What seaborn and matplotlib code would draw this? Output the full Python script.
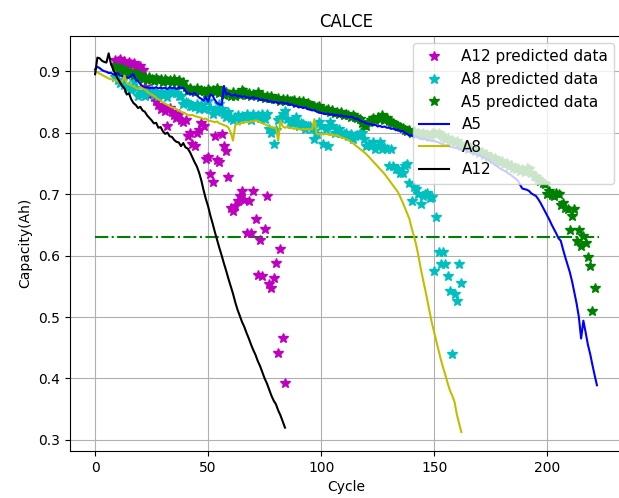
import matplotlib
matplotlib.use("Agg")
import matplotlib.pyplot as plt
import seaborn as sns

# ---------------- data ----------------
title = "CALCE"
x_label = "Cycle"
y_label = "Capacity(Ah)"
threshold_x = [0, 223]
threshold_y = [0.63, 0.63]

# measured capacity curves (one value per cycle, starting at cycle 0)
a5_true = [
    0.903, 0.907, 0.905, 0.902, 0.900, 0.899, 0.897, 0.897, 0.895, 0.894,
    0.897, 0.893, 0.892, 0.890, 0.890, 0.889, 0.893, 0.895, 0.886, 0.884,
    0.879, 0.875, 0.873, 0.874, 0.872, 0.873, 0.872, 0.874, 0.872, 0.873,
    0.872, 0.873, 0.871, 0.874, 0.872, 0.873, 0.871, 0.874, 0.872, 0.873,
    0.868, 0.863, 0.864, 0.862, 0.865, 0.861, 0.857, 0.855, 0.852, 0.858,
    0.850, 0.862, 0.860, 0.853, 0.848, 0.846, 0.845, 0.876, 0.862, 0.864,
    0.861, 0.860, 0.862, 0.859, 0.860, 0.858, 0.859, 0.857, 0.857, 0.856,
    0.858, 0.855, 0.856, 0.853, 0.854, 0.852, 0.853, 0.850, 0.851, 0.849,
    0.850, 0.848, 0.849, 0.849, 0.847, 0.848, 0.845, 0.846, 0.843, 0.844,
    0.841, 0.842, 0.840, 0.841, 0.838, 0.838, 0.836, 0.837, 0.834, 0.833,
    0.832, 0.831, 0.830, 0.831, 0.829, 0.830, 0.828, 0.829, 0.827, 0.828,
    0.826, 0.827, 0.825, 0.826, 0.825, 0.822, 0.823, 0.820, 0.818, 0.817,
    0.815, 0.814, 0.814, 0.812, 0.813, 0.810, 0.811, 0.809, 0.810, 0.808,
    0.808, 0.806, 0.807, 0.804, 0.805, 0.802, 0.803, 0.800, 0.798, 0.795,
    0.796, 0.793, 0.794, 0.791, 0.790, 0.789, 0.790, 0.787, 0.788, 0.786,
    0.787, 0.785, 0.784, 0.782, 0.781, 0.779, 0.780, 0.777, 0.777, 0.775,
    0.776, 0.773, 0.772, 0.771, 0.772, 0.769, 0.769, 0.767, 0.766, 0.764,
    0.764, 0.761, 0.760, 0.757, 0.756, 0.752, 0.750, 0.747, 0.745, 0.742,
    0.740, 0.738, 0.736, 0.733, 0.731, 0.728, 0.725, 0.722, 0.715, 0.709,
    0.708, 0.707, 0.705, 0.701, 0.699, 0.697, 0.692, 0.686, 0.679, 0.672,
    0.665, 0.658, 0.650, 0.643, 0.636, 0.628, 0.624, 0.610, 0.597, 0.585,
    0.573, 0.558, 0.540, 0.522, 0.500, 0.465, 0.494, 0.475, 0.455, 0.440,
    0.422, 0.405, 0.389,
]

a8_true = [
    0.900, 0.898, 0.896, 0.894, 0.892, 0.890, 0.888, 0.887, 0.886, 0.885,
    0.884, 0.882, 0.883, 0.893, 0.880, 0.879, 0.877, 0.875, 0.873, 0.871,
    0.874, 0.872, 0.870, 0.867, 0.864, 0.862, 0.860, 0.857, 0.854, 0.852,
    0.849, 0.847, 0.845, 0.843, 0.841, 0.840, 0.838, 0.836, 0.834, 0.832,
    0.831, 0.829, 0.828, 0.829, 0.827, 0.826, 0.825, 0.824, 0.822, 0.823,
    0.820, 0.819, 0.818, 0.817, 0.818, 0.815, 0.814, 0.812, 0.811, 0.808,
    0.800, 0.787, 0.812, 0.815, 0.813, 0.817, 0.816, 0.818, 0.817, 0.819,
    0.818, 0.820, 0.819, 0.817, 0.815, 0.814, 0.812, 0.810, 0.809, 0.808,
    0.808, 0.787, 0.820, 0.810, 0.808, 0.809, 0.807, 0.808, 0.806, 0.807,
    0.806, 0.805, 0.806, 0.805, 0.806, 0.805, 0.806, 0.822, 0.798, 0.797,
    0.798, 0.797, 0.798, 0.797, 0.796, 0.797, 0.795, 0.796, 0.794, 0.792,
    0.791, 0.789, 0.788, 0.785, 0.783, 0.780, 0.777, 0.774, 0.771, 0.768,
    0.765, 0.761, 0.757, 0.753, 0.749, 0.745, 0.741, 0.737, 0.733, 0.728,
    0.723, 0.718, 0.713, 0.708, 0.703, 0.695, 0.687, 0.678, 0.669, 0.660,
    0.645, 0.632, 0.618, 0.600, 0.580, 0.562, 0.545, 0.527, 0.508, 0.490,
    0.475, 0.460, 0.445, 0.430, 0.417, 0.405, 0.392, 0.380, 0.372, 0.362,
    0.342, 0.327, 0.313,
]

a12_true = [
    0.895, 0.922, 0.921, 0.917, 0.915, 0.914, 0.929, 0.912, 0.903, 0.895,
    0.888, 0.882, 0.876, 0.872, 0.862, 0.864, 0.854, 0.848, 0.845, 0.840,
    0.842, 0.836, 0.834, 0.828, 0.824, 0.820, 0.815, 0.816, 0.808, 0.809,
    0.802, 0.798, 0.800, 0.794, 0.793, 0.788, 0.785, 0.784, 0.778, 0.783,
    0.776, 0.774, 0.768, 0.760, 0.752, 0.745, 0.735, 0.722, 0.706, 0.692,
    0.680, 0.665, 0.652, 0.638, 0.625, 0.612, 0.600, 0.587, 0.575, 0.562,
    0.550, 0.538, 0.524, 0.512, 0.502, 0.492, 0.484, 0.474, 0.465, 0.455,
    0.446, 0.438, 0.428, 0.420, 0.410, 0.400, 0.392, 0.382, 0.372, 0.364,
    0.358, 0.348, 0.340, 0.330, 0.320,
]

# predicted capacities (start at cycle 9)
pred_start = 9
a12_pred = [
    0.918,
    0.916, 0.920, 0.914, 0.917, 0.912, 0.915, 0.911, 0.913, 0.908, 0.906,
    0.909, 0.902, 0.875, 0.866, 0.862, 0.868, 0.858, 0.852, 0.845, 0.838,
    0.841, 0.835, 0.810, 0.840, 0.833, 0.829, 0.824, 0.830, 0.821, 0.818,
    0.820, 0.794, 0.800, 0.782, 0.779, 0.800, 0.805, 0.816, 0.810, 0.757,
    0.760, 0.733, 0.720, 0.795, 0.756, 0.752, 0.797, 0.778, 0.770, 0.728,
    0.678, 0.672, 0.680, 0.689, 0.697, 0.705, 0.690, 0.637, 0.689, 0.637,
    0.705, 0.659, 0.569, 0.626, 0.567, 0.643, 0.697, 0.553, 0.548, 0.564,
    0.588, 0.442, 0.610, 0.466, 0.393,
]

a8_pred = [
    0.890,
    0.885, 0.880, 0.884, 0.878, 0.873, 0.876, 0.870, 0.884, 0.872, 0.859,
    0.863, 0.866, 0.860, 0.870, 0.866, 0.868, 0.862, 0.864, 0.860, 0.866,
    0.862, 0.863, 0.858, 0.867, 0.864, 0.868, 0.865, 0.860, 0.859, 0.846,
    0.850, 0.848, 0.843, 0.843, 0.841, 0.847, 0.839, 0.845, 0.838, 0.852,
    0.852, 0.840, 0.830, 0.836, 0.833, 0.846, 0.838, 0.830, 0.826, 0.833,
    0.824, 0.821, 0.826, 0.829, 0.822, 0.827, 0.824, 0.830, 0.826, 0.821,
    0.830, 0.825, 0.828, 0.824, 0.830, 0.822, 0.830, 0.806, 0.800, 0.781,
    0.805, 0.820, 0.824, 0.830, 0.835, 0.822, 0.818, 0.816, 0.820, 0.825,
    0.811, 0.815, 0.814, 0.806, 0.810, 0.811, 0.806, 0.789, 0.798, 0.817,
    0.811, 0.781, 0.806, 0.778, 0.817, 0.811, 0.800, 0.804, 0.806, 0.800,
    0.797, 0.800, 0.795, 0.798, 0.789, 0.794, 0.796, 0.800, 0.800, 0.789,
    0.779, 0.782, 0.779, 0.784, 0.773, 0.778, 0.784, 0.773, 0.776, 0.773,
    0.746, 0.773, 0.746, 0.741, 0.740, 0.735, 0.735, 0.746, 0.749, 0.718,
    0.689, 0.711, 0.708, 0.700, 0.684, 0.697, 0.700, 0.702, 0.694, 0.695,
    0.575, 0.662, 0.606, 0.586, 0.605, 0.586, 0.567, 0.543, 0.440, 0.537,
    0.526, 0.587, 0.556,
]

a5_pred = [
    0.909,
    0.903, 0.900, 0.905, 0.898, 0.900, 0.896, 0.899, 0.894, 0.897, 0.890,
    0.893, 0.888, 0.891, 0.886, 0.890, 0.887, 0.884, 0.889, 0.885, 0.887,
    0.883, 0.888, 0.884, 0.886, 0.882, 0.887, 0.883, 0.885, 0.878, 0.882,
    0.874, 0.870, 0.872, 0.868, 0.866, 0.873, 0.867, 0.870, 0.868, 0.864,
    0.871, 0.868, 0.870, 0.866, 0.872, 0.865, 0.868, 0.861, 0.866, 0.863,
    0.859, 0.866, 0.859, 0.864, 0.862, 0.870, 0.866, 0.862, 0.865, 0.860,
    0.863, 0.862, 0.866, 0.858, 0.861, 0.857, 0.859, 0.856, 0.860, 0.855,
    0.854, 0.857, 0.852, 0.855, 0.851, 0.854, 0.852, 0.851, 0.853, 0.848,
    0.851, 0.849, 0.851, 0.846, 0.848, 0.845, 0.843, 0.843, 0.841, 0.844,
    0.838, 0.838, 0.836, 0.839, 0.834, 0.836, 0.832, 0.834, 0.831, 0.833,
    0.829, 0.830, 0.828, 0.826, 0.829, 0.825, 0.824, 0.822, 0.815, 0.812,
    0.810, 0.818, 0.821, 0.824, 0.820, 0.826, 0.822, 0.828, 0.821, 0.824,
    0.819, 0.818, 0.815, 0.813, 0.811, 0.809, 0.807, 0.805, 0.802, 0.804,
    0.800, 0.802, 0.798, 0.800, 0.797, 0.799, 0.796, 0.798, 0.795, 0.799,
    0.800, 0.797, 0.800, 0.796, 0.793, 0.790, 0.792, 0.787, 0.788, 0.784,
    0.786, 0.782, 0.780, 0.777, 0.778, 0.774, 0.776, 0.773, 0.770, 0.772,
    0.767, 0.768, 0.764, 0.766, 0.761, 0.760, 0.757, 0.758, 0.754, 0.752,
    0.754, 0.749, 0.751, 0.746, 0.748, 0.743, 0.740, 0.742, 0.738, 0.741,
    0.736, 0.742, 0.741, 0.735, 0.730, 0.727, 0.724, 0.722, 0.718, 0.716,
    0.700, 0.705, 0.698, 0.697, 0.702, 0.700, 0.682, 0.686, 0.678, 0.676,
    0.642, 0.665, 0.675, 0.624, 0.641, 0.615, 0.632, 0.621, 0.597, 0.583,
    0.510, 0.547,
]

pred_series = [("A12 predicted data", a12_pred, "m"),
               ("A8 predicted data", a8_pred, "c"),
               ("A5 predicted data", a5_pred, "g")]
true_series = [("A5", a5_true, "b"),
               ("A8", a8_true, "y"),
               ("A12", a12_true, "k")]

# ---------------- figure ----------------
fig = plt.figure(figsize=(6.19, 4.98), dpi=100)
ax = fig.add_axes([0.1131, 0.0944, 0.8918, 0.8343])

handles = []
labels = []

sns.lineplot(x=threshold_x, y=threshold_y, color="g", linestyle="-.",
             linewidth=1.5, ax=ax, legend=False)

for name, vals, col in pred_series:
    xs = list(range(pred_start, pred_start + len(vals)))
    sns.lineplot(x=xs, y=vals, ax=ax, color=col, marker="*", linestyle="",
                 markersize=7, markeredgecolor=col, markeredgewidth=1.0,
                 estimator=None, sort=False, legend=False)
    handles.append(ax.lines[-1])
    labels.append(name)

for name, vals, col in true_series:
    xs = list(range(0, len(vals)))
    sns.lineplot(x=xs, y=vals, ax=ax, color=col, linewidth=1.5,
                 estimator=None, sort=False, legend=False)
    handles.append(ax.lines[-1])
    labels.append(name)

ax.set_xlim(-11.1, 233.1)
ax.set_ylim(0.282, 0.958)
ax.set_xticks([0, 50, 100, 150, 200])
ax.set_yticks([0.3, 0.4, 0.5, 0.6, 0.7, 0.8, 0.9])
ax.grid(True, color="#b0b0b0", linewidth=0.8)
ax.spines["right"].set_visible(False)
ax.set_title(title, fontsize=12)
ax.set_xlabel(x_label, fontsize=10)
ax.set_ylabel(y_label, fontsize=10)
ax.tick_params(labelsize=10)
ax.legend(handles, labels, loc="upper right", fontsize=11)

fig.savefig("out.png", dpi=100)
